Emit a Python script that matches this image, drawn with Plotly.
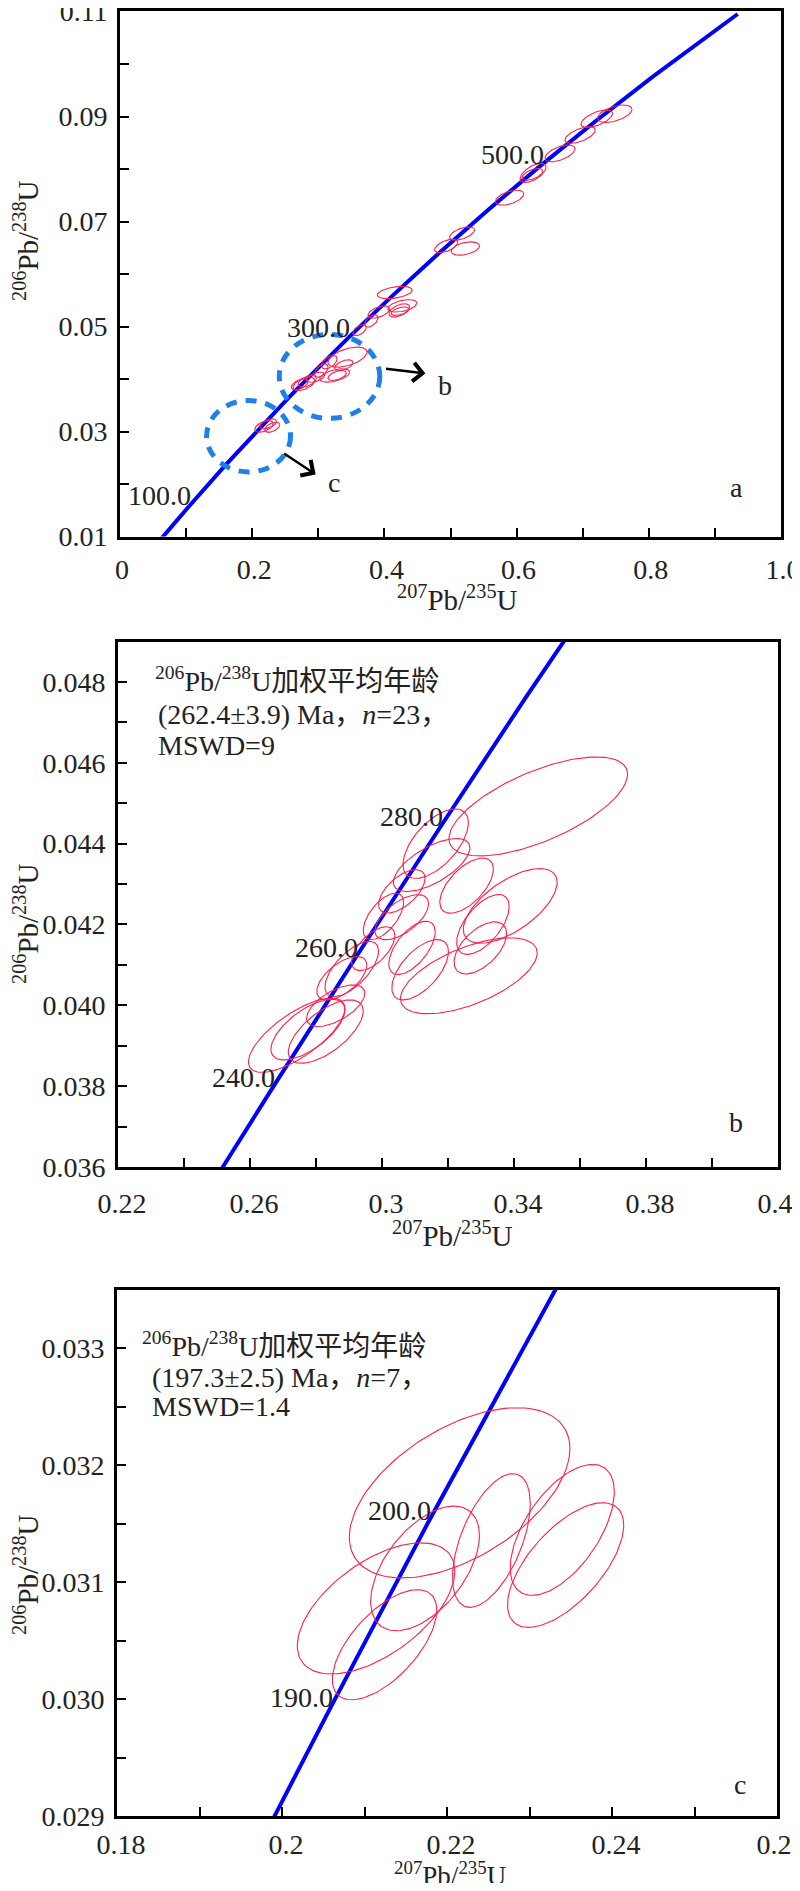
import numpy as np
import plotly.graph_objects as go

# ---------------- Concordia reference points ----------------
conc_age = [60, 100, 150, 184, 190, 200, 210, 215, 225, 240, 260, 280, 300,
            315, 350, 400, 450, 500, 550, 600, 650, 670]
conc_207_235 = [0.06087, 0.10350, 0.15920, 0.19867, 0.20577, 0.21771, 0.22976,
                0.23583, 0.24806, 0.26663, 0.29183, 0.31753, 0.34374, 0.36374,
                0.41156, 0.48281, 0.55766, 0.63628, 0.71887, 0.80563, 0.89677,
                0.93450]
conc_206_238 = [0.009351, 0.015633, 0.023542, 0.028954, 0.029912, 0.031511,
                0.033113, 0.033914, 0.035519, 0.037932, 0.041157, 0.044392,
                0.047637, 0.050078, 0.055794, 0.064016, 0.072300, 0.080650,
                0.089064, 0.097544, 0.106090, 0.109527]

labels_a = [100, 300, 500]
labels_b = [240, 260, 280]
labels_c = [190, 200]

# ---------------- Panel a: all analyses ----------------
a_x207 = [0.7485, 0.7213, 0.6961, 0.6657, 0.6249, 0.6239, 0.5894, 0.5174, 0.4935, 0.5224,
          0.4157, 0.4272, 0.4225, 0.4236, 0.3915, 0.3802, 0.3625,
          0.3441, 0.3165, 0.3386, 0.3248, 0.3285, 0.2958, 0.3047, 0.2782, 0.2719, 0.2832,
          0.2178, 0.2304, 0.2241]
a_s207 = [0.0260, 0.0239, 0.0229, 0.0227, 0.0196, 0.0156, 0.0214, 0.0189, 0.0176, 0.0214,
          0.0264, 0.0219, 0.0156, 0.0133, 0.0163, 0.0101, 0.0101,
          0.0295, 0.0118, 0.0139, 0.0227, 0.0139, 0.0139, 0.0101, 0.0164, 0.0126, 0.0139,
          0.0139, 0.0113, 0.0126]
a_y206 = [0.09053, 0.08958, 0.08647, 0.08298, 0.07926, 0.07899, 0.07454, 0.06771, 0.06534, 0.06485,
          0.05647, 0.05393, 0.05307, 0.05292, 0.05275, 0.05107, 0.04931,
          0.04416, 0.04321, 0.04263, 0.04067, 0.04067, 0.04034, 0.04162, 0.03908, 0.03899, 0.03956,
          0.03097, 0.03080, 0.03145]
a_s206 = [0.00166, 0.00166, 0.00158, 0.00159, 0.00181, 0.00112, 0.00143, 0.00127, 0.00127, 0.00127,
          0.00118, 0.00118, 0.00127, 0.00080, 0.00115, 0.00118, 0.00102,
          0.00191, 0.00127, 0.00102, 0.00127, 0.00095, 0.00095, 0.00127, 0.00127, 0.00105, 0.00111,
          0.00111, 0.00095, 0.00095]
a_rho = [0.5, 0.6, 0.6, 0.55, 0.6, 0.55, 0.5, 0.55, 0.55, 0.4,
         0.4, 0.45, 0.5, 0.5, 0.5, 0.5, 0.5,
         0.5, 0.5, 0.5, 0.5, 0.5, 0.5, 0.5, 0.5, 0.5, 0.5,
         0.5, 0.5, 0.5]

# ---------------- Panel b ----------------
b_x207 = [0.34735, 0.31627, 0.31504, 0.32563, 0.33885, 0.33058, 0.32980, 0.32632, 0.30909,
          0.31156, 0.30600, 0.30600, 0.30043, 0.28783, 0.29084, 0.28597, 0.28296, 0.27755,
          0.27414, 0.29733]
b_s207 = [0.02706, 0.00990, 0.01160, 0.00812, 0.01422, 0.00796, 0.00796, 0.02072, 0.00703,
          0.00858, 0.00703, 0.00812, 0.00611, 0.00758, 0.00812, 0.00881, 0.01136, 0.01121,
          0.01461, 0.00657]
b_y206 = [0.04492, 0.04400, 0.04347, 0.04296, 0.04246, 0.04200, 0.04142, 0.04073, 0.04142,
          0.04088, 0.04282, 0.04218, 0.04220, 0.04067, 0.04090, 0.03999, 0.03935, 0.03940,
          0.03926, 0.04140]
b_s206 = [0.001224, 0.000859, 0.000655, 0.000682, 0.000923, 0.000741, 0.000644, 0.000939,
          0.000660, 0.000746, 0.000537, 0.000558, 0.000574, 0.000537, 0.000682, 0.000515,
          0.000784, 0.000751, 0.000918, 0.000542]
b_rho = [0.65, 0.6, 0.65, 0.6, 0.63, 0.6, 0.55, 0.6, 0.6,
         0.6, 0.6, 0.6, 0.6, 0.6, 0.65, 0.6, 0.65, 0.65,
         0.72, 0.6]

# ---------------- Panel c ----------------
c_x207 = [0.22153, 0.22538, 0.23397, 0.23438, 0.21734, 0.21140, 0.21243]
c_s207 = [0.01337, 0.00471, 0.00631, 0.00704, 0.00659, 0.00955, 0.00633]
c_y206 = [0.031765, 0.031357, 0.031448, 0.031147, 0.031118, 0.030776, 0.030465]
c_s206 = [0.000728, 0.000572, 0.000560, 0.000533, 0.000533, 0.000561, 0.000471]
c_rho = [0.52, 0.55, 0.58, 0.64, 0.53, 0.57, 0.63]

RED = "#ff1f4b"
BLUE = "#0000ff"
SERIF = "Liberation Serif"
TXT = "Liberation Serif, Noto Sans CJK SC"
FS = 28

# the page has an 8px body margin; keep the page inside the 800x1891 window (no scrollbars)
OFF = 8
W = 800 - 2 * OFF
H = 1891 - 2 * OFF


def px(X):
    return (X - OFF) / W


def py(Y):
    return 1 - (Y - OFF) / H


def ellipse_trace(cx, sx, cy, sy, rho, xa, ya):
    xs, ys = [], []
    t = np.linspace(0, 2 * np.pi, 121)
    for x0, dx, y0, dy, r in zip(cx, sx, cy, sy, rho):
        ex = x0 + dx * np.cos(t)
        ey = y0 + dy * (r * np.cos(t) + np.sqrt(1 - r * r) * np.sin(t))
        xs += list(ex) + [None]
        ys += list(ey) + [None]
    return go.Scatter(x=xs, y=ys, mode="lines", line=dict(color=RED, width=1.1),
                      xaxis=xa, yaxis=ya, hoverinfo="skip", showlegend=False)


def concordia_trace(xa, ya):
    return go.Scatter(x=conc_207_235, y=conc_206_238, mode="lines",
                      line=dict(color=BLUE, width=4), xaxis=xa, yaxis=ya,
                      hoverinfo="skip", showlegend=False)


fig = go.Figure()
fig.add_trace(concordia_trace("x", "y"))
fig.add_trace(ellipse_trace(a_x207, a_s207, a_y206, a_s206, a_rho, "x", "y"))
fig.add_trace(concordia_trace("x2", "y2"))
fig.add_trace(ellipse_trace(b_x207, b_s207, b_y206, b_s206, b_rho, "x2", "y2"))
fig.add_trace(concordia_trace("x3", "y3"))
fig.add_trace(ellipse_trace(c_x207, c_s207, c_y206, c_s206, c_rho, "x3", "y3"))


def minor(vals):
    return dict(tickvals=vals, ticks="inside", ticklen=9, tickwidth=2, tickcolor="black")


def ax_common():
    return dict(showline=True, linecolor="black", linewidth=2.6, mirror=True,
                ticks="inside", ticklen=9, tickwidth=2, tickcolor="black",
                showgrid=False, zeroline=False, automargin=False,
                ticklabeloverflow="allow",
                tickfont=dict(family=SERIF, size=FS, color="#222"))


# Panel a axes
xa = ax_common()
xa.update(domain=[px(120), px(781)], range=[0, 1.0], anchor="y",
          tickvals=[0, 0.2, 0.4, 0.6, 0.8, 1.0],
          ticktext=["0", "0.2", "0.4", "0.6", "0.8", "1.0"],
          minor=minor([0.1, 0.3, 0.5, 0.7, 0.9]), ticklabelstandoff=6, ticklabelshift=2)
ya = ax_common()
ya.update(domain=[py(536.5), py(11)], range=[0.01, 0.1101], anchor="x",
          tickvals=[0.01, 0.03, 0.05, 0.07, 0.09, 0.11],
          ticktext=["0.01", "0.03", "0.05", "0.07", "0.09", "0.11"],
          minor=minor([0.02, 0.04, 0.06, 0.08, 0.10]), ticklabelstandoff=4)

# Panel b axes
xb = ax_common()
xb.update(domain=[px(118), px(778)], range=[0.22, 0.42], anchor="y2",
          tickvals=[0.22, 0.26, 0.30, 0.34, 0.38, 0.42],
          ticktext=["0.22", "0.26", "0.3", "0.34", "0.38", "0.42"],
          minor=minor([0.24, 0.28, 0.32, 0.36, 0.40]), ticklabelstandoff=10,
          ticklabelshift=4)
yb = ax_common()
yb.update(domain=[py(1167), py(641.5)], range=[0.036, 0.049], anchor="x2",
          tickvals=[0.036, 0.038, 0.040, 0.042, 0.044, 0.046, 0.048],
          ticktext=["0.036", "0.038", "0.040", "0.042", "0.044", "0.046", "0.048"],
          minor=minor([0.037, 0.039, 0.041, 0.043, 0.045, 0.047]), ticklabelstandoff=4)

# Panel c axes
xc = ax_common()
xc.update(domain=[px(117), px(777)], range=[0.18, 0.26], anchor="y3",
          tickvals=[0.18, 0.20, 0.22, 0.24, 0.26],
          ticktext=["0.18", "0.2", "0.22", "0.24", "0.26"],
          minor=minor([0.19, 0.21, 0.23, 0.25]), ticklabelstandoff=2, ticklabelshift=4)
yc = ax_common()
yc.update(domain=[py(1816), py(1290)], range=[0.029, 0.0335], anchor="x3",
          tickvals=[0.029, 0.030, 0.031, 0.032, 0.033],
          ticktext=["0.029", "0.030", "0.031", "0.032", "0.033"],
          minor=minor([0.0295, 0.0305, 0.0315, 0.0325]), ticklabelstandoff=4)

annotations = []


def paper_ann(text, X, Y, size=FS, angle=0, xanchor="center", family=SERIF):
    annotations.append(dict(text=text, x=px(X), y=py(Y), xref="paper", yref="paper",
                            showarrow=False, xanchor=xanchor, yanchor="middle",
                            textangle=angle, font=dict(family=family, size=size, color="#222")))


# axis titles
ytitle = "<sup>206</sup>Pb/<sup>238</sup>U"
xtitle = "<sup>207</sup>Pb/<sup>235</sup>U"
paper_ann(ytitle, 26, 241, size=29, angle=-90)
paper_ann(ytitle, 26, 924, size=29, angle=-90)
paper_ann(ytitle, 26, 1575, size=29, angle=-90)
paper_ann(xtitle, 457, 598, size=29)
paper_ann(xtitle, 452, 1234, size=29)
paper_ann(xtitle, 450, 1874, size=27)

# panel letters
paper_ann("a", 736, 487)
paper_ann("b", 736, 1122)
paper_ann("c", 740, 1784)

# inset texts
paper_ann("<sup>206</sup>Pb/<sup>238</sup>U加权平均年龄", 153, 679, xanchor="left", family=TXT)
paper_ann("(262.4±3.9) Ma，<i>n</i>=23，", 156, 714, xanchor="left", family=TXT)
paper_ann("MSWD=9", 156, 745, xanchor="left", family=TXT)
paper_ann("<sup>206</sup>Pb/<sup>238</sup>U加权平均年龄", 140, 1344, xanchor="left", family=TXT)
paper_ann("(197.3±2.5) Ma，<i>n</i>=7，", 150, 1377, xanchor="left", family=TXT)
paper_ann("MSWD=1.4", 150, 1406, xanchor="left", family=TXT)


# age labels on concordia
def age_labels(ages, xr, yr):
    for a in ages:
        i = conc_age.index(a)
        annotations.append(dict(text=f"{a:.1f}", x=conc_207_235[i], y=conc_206_238[i],
                                xref=xr, yref=yr, showarrow=False, xanchor="right",
                                yanchor="bottom", xshift=5, yshift=-6,
                                font=dict(family=SERIF, size=FS, color="#222")))


age_labels(labels_a, "x", "y")
age_labels(labels_b, "x2", "y2")
age_labels(labels_c, "x3", "y3")

# zoom markers in panel a
zoom_b = dict(x0=0.241, x1=0.393, y0=0.0325, y1=0.0485)
zoom_c = dict(x0=0.131, x1=0.258, y0=0.0223, y1=0.0359)
shapes = []
for z in (zoom_b, zoom_c):
    shapes.append(dict(type="circle", xref="x", yref="y", **z,
                       line=dict(color="#1f80e8", width=5, dash="11px,9px")))

arrow_b = dict(tail=(0.400, 0.0420), head=(0.462, 0.04105), label=(0.491, 0.0388))
arrow_c = dict(tail=(0.246, 0.0260), head=(0.296, 0.0218), label=(0.323, 0.0203))
for name, ar in (("b", arrow_b), ("c", arrow_c)):
    annotations.append(dict(x=ar["head"][0], y=ar["head"][1], ax=ar["tail"][0], ay=ar["tail"][1],
                            xref="x", yref="y", axref="x", ayref="y", text="",
                            showarrow=True, arrowhead=4, arrowsize=1.5, arrowwidth=2.4,
                            arrowcolor="black"))
    annotations.append(dict(x=ar["label"][0], y=ar["label"][1], xref="x", yref="y",
                            text=name, showarrow=False,
                            font=dict(family=SERIF, size=FS, color="#222")))

fig.update_layout(
    width=W, height=H, autosize=False,
    margin=dict(l=0, r=0, t=0, b=0),
    paper_bgcolor="white", plot_bgcolor="white",
    font=dict(family=SERIF, size=FS, color="#222"),
    xaxis=xa, yaxis=ya, xaxis2=xb, yaxis2=yb, xaxis3=xc, yaxis3=yc,
    annotations=annotations, shapes=shapes, showlegend=False,
)

fig.write_html("out.html")
